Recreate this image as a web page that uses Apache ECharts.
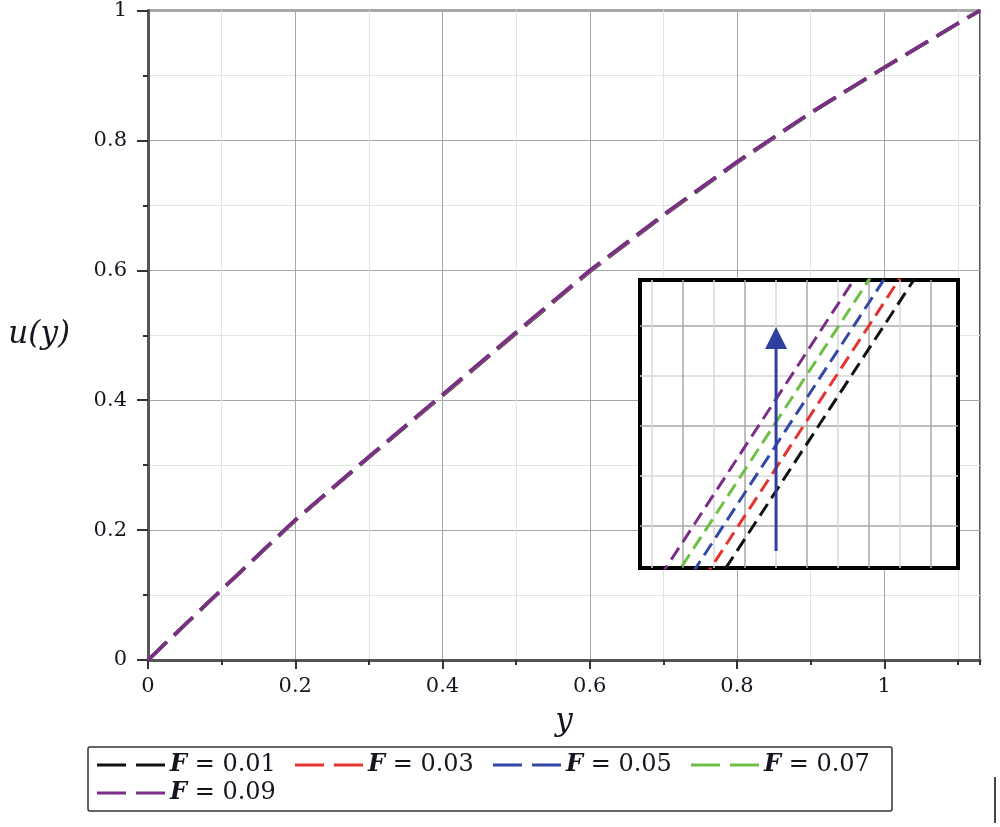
<!DOCTYPE html>
<html>
<head>
<meta charset="utf-8">
<script src="https://cdn.jsdelivr.net/npm/echarts@6/dist/echarts.min.js"></script>
<style>
  html, body { margin: 0; padding: 0; background: #fff; }
  #chart { width: 1000px; height: 827px; }
</style>
</head>
<body>
<div id="chart"></div>
<script>
// y positions (x axis of the plot)
const yValues = [0, 0.1, 0.2, 0.3, 0.4, 0.5, 0.6, 0.7, 0.8, 0.9, 1.0, 1.1, 1.13];

// u(y) for each F (curves nearly coincide)
const uF001 = [0, 0.1080, 0.2150, 0.3120, 0.4070, 0.50300, 0.59800, 0.6840, 0.7660, 0.8420, 0.9120, 0.98000, 1.0];
const uF003 = [0, 0.1081, 0.2152, 0.3123, 0.4074, 0.50346, 0.59846, 0.6844, 0.7663, 0.8422, 0.9121, 0.98005, 1.0];
const uF005 = [0, 0.1082, 0.2154, 0.3126, 0.4078, 0.50392, 0.59892, 0.6848, 0.7666, 0.8424, 0.9122, 0.98010, 1.0];
const uF007 = [0, 0.1083, 0.2156, 0.3129, 0.4082, 0.50438, 0.59938, 0.6852, 0.7669, 0.8426, 0.9123, 0.98015, 1.0];
const uF009 = [0, 0.1084, 0.2158, 0.3132, 0.4086, 0.50484, 0.59984, 0.6856, 0.7672, 0.8428, 0.9124, 0.98020, 1.0];

const names = ["F = 0.01", "F = 0.03", "F = 0.05", "F = 0.07", "F = 0.09"];
const colors = ["#111111", "#e5332f", "#3448a8", "#6cc046", "#7b2d88"];
const curves = [uF001, uF003, uF005, uF007, uF009];

// zoomed window shown in the inset
const insetXRange = [0.54161, 0.55187];
const insetYRange = [0.54516, 0.55092];
const arrowFrom = [0.546, 0.5455];
const arrowTo = [0.546, 0.54976];

const serif = "DejaVu Serif";
const textColor = "#15151f";
// two dashes, used as legend icon
const dashIcon = "path://M0,0H29V3H0Z M39,0H68V3H39Z";

let chart = echarts.init(document.getElementById("chart"));

let series = [];
curves.forEach((u, i) => {
  series.push({
    name: names[i],
    type: "line",
    xAxisIndex: 0,
    yAxisIndex: 0,
    symbol: "none",
    z: 3 + i,
    lineStyle: { color: colors[i], width: 3.5, type: [26, 10] },
    itemStyle: { color: colors[i] },
    data: yValues.map((y, k) => [y, u[k]])
  });
});
curves.forEach((u, i) => {
  series.push({
    name: names[i],
    type: "line",
    xAxisIndex: 2,
    yAxisIndex: 2,
    symbol: "none",
    clip: true,
    z: 10,
    lineStyle: { color: colors[i], width: 3, type: [14, 7] },
    itemStyle: { color: colors[i] },
    data: yValues.map((y, k) => [y, u[k]])
  });
});
// arrow in the inset: shaft + head
series.push({
  name: "arrow",
  type: "line",
  xAxisIndex: 2,
  yAxisIndex: 2,
  symbol: "none",
  silent: true,
  z: 12,
  lineStyle: { color: "#2f3f9f", width: 3, type: "solid" },
  data: [arrowFrom, arrowTo]
});
series.push({
  name: "arrowHead",
  type: "scatter",
  xAxisIndex: 2,
  yAxisIndex: 2,
  symbol: "triangle",
  symbolSize: [22, 22],
  silent: true,
  z: 12,
  itemStyle: { color: "#2f3f9f", opacity: 1 },
  data: [arrowTo]
});

const option = {
  animation: false,
  backgroundColor: "#fff",
  grid: [
    {
      left: 148, right: 20, top: 9, bottom: 167,
      show: true, borderColor: "#555", borderWidth: 2
    },
    {
      left: 640, top: 280, width: 318, height: 288, z: 6,
      show: true, backgroundColor: "#fff", borderColor: "#000", borderWidth: 4
    }
  ],
  legend: {
    data: names.map(n => ({ name: n, icon: dashIcon })),
    left: 88,
    top: 747,
    width: 790,
    padding: [5, 5, 5, 9],
    itemGap: 2,
    itemWidth: 68,
    itemHeight: 3,
    borderColor: "#333",
    borderWidth: 1.5,
    borderRadius: 2,
    formatter: name => name.replace("F", "{i|F}"),
    textStyle: {
      fontFamily: serif,
      fontSize: 24,
      color: textColor,
      width: 123,
      lineHeight: 26,
      rich: {
        i: { fontFamily: serif, fontStyle: "italic", fontWeight: "bold", fontSize: 24, color: textColor }
      }
    }
  },
  xAxis: [
    {
      gridIndex: 0, type: "value", position: "bottom",
      min: 0, max: 1.13, interval: 0.1,
      axisLine: { lineStyle: { color: "#555", width: 3 } },
      axisTick: { length: 5, lineStyle: { color: "#333", width: 2 } },
      axisLabel: { show: false },
      splitLine: { lineStyle: { color: ["#a6a6a6", "#e3e3e3"], width: 1 } }
    },
    {
      gridIndex: 0, type: "value", position: "bottom",
      min: 0, max: 1.13, interval: 0.2,
      axisLine: { show: false },
      axisTick: { length: 9, lineStyle: { color: "#333", width: 2 } },
      axisLabel: { margin: 16, fontFamily: serif, fontSize: 21, color: textColor, showMaxLabel: false },
      splitLine: { show: false },
      name: "y",
      nameLocation: "middle",
      nameGap: 46,
      nameTextStyle: { fontFamily: serif, fontStyle: "italic", fontSize: 31, color: textColor }
    },
    {
      gridIndex: 1, type: "value", z: 7,
      min: insetXRange[0], max: insetXRange[1], splitNumber: 10,
      axisLine: { show: false }, axisTick: { show: false }, axisLabel: { show: false },
      splitLine: { showMinLine: false, showMaxLine: false, lineStyle: { color: ["#d9d9d9", "#a9a9a9"], width: 1.5 } }
    }
  ],
  yAxis: [
    {
      gridIndex: 0, type: "value", position: "left",
      min: 0, max: 1, interval: 0.1,
      axisLine: { lineStyle: { color: "#555", width: 3 } },
      axisTick: { length: 5, lineStyle: { color: "#333", width: 2 } },
      axisLabel: { show: false },
      splitLine: { lineStyle: { color: ["#a6a6a6", "#e3e3e3"], width: 1 } }
    },
    {
      gridIndex: 0, type: "value", position: "left",
      min: 0, max: 1, interval: 0.2,
      axisLine: { show: false },
      axisTick: { length: 11, lineStyle: { color: "#333", width: 2 } },
      axisLabel: { margin: 21, fontFamily: serif, fontSize: 21, color: textColor },
      splitLine: { show: false },
      name: "u(y)",
      nameLocation: "middle",
      nameRotate: 0,
      nameGap: 78,
      nameTextStyle: { fontFamily: serif, fontStyle: "italic", fontSize: 31, color: textColor }
    },
    {
      gridIndex: 1, type: "value", z: 7,
      min: insetYRange[0], max: insetYRange[1], splitNumber: 6,
      axisLine: { show: false }, axisTick: { show: false }, axisLabel: { show: false },
      splitLine: { showMinLine: false, showMaxLine: false, lineStyle: { color: ["#a9a9a9", "#d9d9d9"], width: 1.5 } }
    }
  ],
  graphic: [
    {
      type: "line",
      shape: { x1: 995, y1: 777, x2: 995, y2: 823 },
      style: { stroke: "#444", lineWidth: 2 }
    }
  ],
  series: series
};

chart.setOption(option);
</script>
</body>
</html>
